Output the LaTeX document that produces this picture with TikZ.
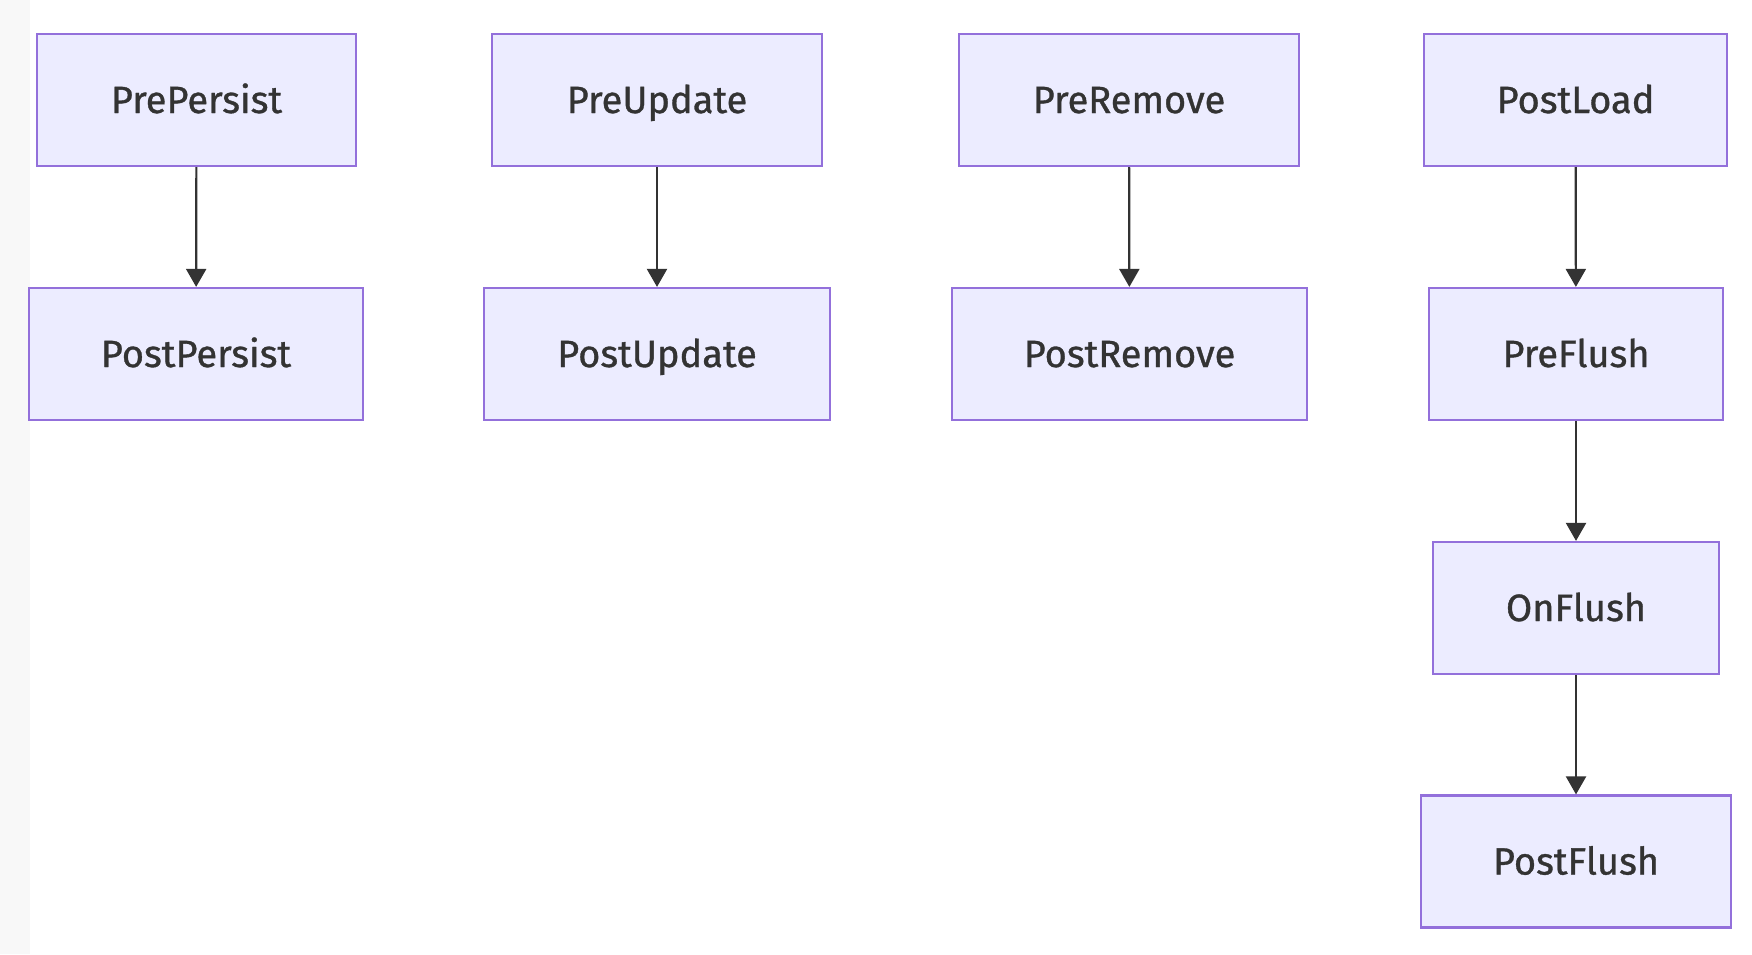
\documentclass[tikz,border=0pt]{standalone}
\usepackage{fontspec}
\setmainfont{Fira Sans}
\newfontfamily\lblfont{Fira Sans}[FakeBold=0.9]
\usetikzlibrary{arrows.meta}
\definecolor{boxfill}{HTML}{ECECFF}
\definecolor{boxline}{HTML}{9370DB}
\definecolor{ink}{HTML}{333333}
\definecolor{strip}{HTML}{F8F8F8}
\begin{document}
\begin{tikzpicture}[x=1pt,y=1pt,
  evbox/.style={draw=boxline, fill=boxfill, line width=2.2pt, minimum height=132pt,
    inner sep=0pt, text height=26pt, text depth=0pt, text=ink,
    font=\lblfont\fontsize{38}{42}\selectfont},
  flow/.style={draw=ink, line width=2.2pt, -{Triangle[length=18pt,width=20pt]}}]
\useasboundingbox (0,0) rectangle (1752,-954);
\fill[strip] (0,0) rectangle (30,-954);
\node[evbox, minimum width=319pt] (prepersist) at (196.5,-100) {PrePersist};
\node[evbox, minimum width=334pt] (postpersist) at (196,-354) {PostPersist};
\node[evbox, minimum width=330pt] (preupdate) at (657,-100) {PreUpdate};
\node[evbox, minimum width=346pt] (postupdate) at (657,-354) {PostUpdate};
\node[evbox, minimum width=340pt] (preremove) at (1129,-100) {PreRemove};
\node[evbox, minimum width=355pt] (postremove) at (1129.5,-354) {PostRemove};
\node[evbox, minimum width=303pt] (postload) at (1575.5,-100) {PostLoad};
\node[evbox, minimum width=294pt] (preflush) at (1576,-354) {PreFlush};
\node[evbox, minimum width=286pt] (onflush) at (1576,-608) {OnFlush};
\node[evbox, minimum width=310pt] (postflush) at (1576,-861.5) {PostFlush};
\draw[flow] (prepersist) -- (postpersist);
\draw[flow] (preupdate) -- (postupdate);
\draw[flow] (preremove) -- (postremove);
\draw[flow] (postload) -- (preflush);
\draw[flow] (preflush) -- (onflush);
\draw[flow] (onflush) -- (postflush);
\end{tikzpicture}
\end{document}
